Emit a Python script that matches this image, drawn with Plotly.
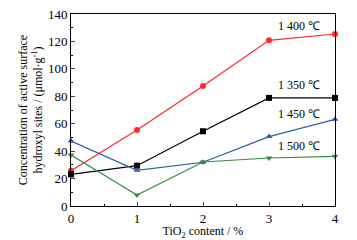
import plotly.graph_objects as go

tio2 = [0, 1, 2, 3, 4]
s1400 = [25.7, 55.4, 87.5, 120.8, 125.4]
s1350 = [23.1, 29.4, 54.5, 78.8, 78.8]
s1450 = [47.4, 26.0, 31.9, 50.6, 63.2]
s1500 = [37.2, 8.0, 32.1, 35.0, 36.2]
labels = ["1 400 ℃", "1 350 ℃", "1 450 ℃", "1 500 ℃"]
label_y = [131, 88, 67, 44]

series = [
    (s1400, "#ff2a2a", "circle"),
    (s1350, "#000000", "square"),
    (s1450, "#2a5db0", "triangle-up"),
    (s1500, "#3a8a45", "triangle-down"),
]

fig = go.Figure()
for (vals, col, sym), name in zip(series, labels):
    fig.add_trace(go.Scatter(x=tio2, y=vals, mode="lines+markers", name=name,
                             line=dict(color=col, width=1.2),
                             marker=dict(symbol=sym, size=6, color=col),
                             cliponaxis=False))

for name, ly in zip(labels, label_y):
    fig.add_annotation(x=3.45, y=ly, text=name, showarrow=False,
                       font=dict(size=12, color="black"), xanchor="center")

font = "Liberation Serif, Times New Roman, serif"
fig.update_layout(
    width=349, height=232, showlegend=False,
    margin=dict(l=63, r=22, t=6, b=34),
    paper_bgcolor="white", plot_bgcolor="white",
    font=dict(family=font, size=13, color="black"),
)
fig.update_xaxes(range=[0, 4], dtick=1, ticks="inside", ticklen=4, showline=True,
                 linecolor="black", linewidth=1, mirror=True, showgrid=False, zeroline=False,
                 automargin=False, ticklabeloverflow="allow",
                 minor=dict(ticks="inside", dtick=0.5, ticklen=2, tickcolor="black"),
                 title=dict(text="TiO<sub>2</sub> content / %", font=dict(size=12), standoff=2))
fig.update_yaxes(range=[0, 140], dtick=20, ticks="inside", ticklen=4, showline=True,
                 linecolor="black", linewidth=1, mirror=True, showgrid=False, zeroline=False,
                 automargin=False, ticklabeloverflow="allow",
                 minor=dict(ticks="inside", dtick=10, ticklen=2, tickcolor="black"),
                 title=dict(text="Concentration of active surface<br>hydroxyl sites / (μmol·g<sup>-1</sup>)",
                            font=dict(size=12), standoff=2))
fig.write_html("out.html")
